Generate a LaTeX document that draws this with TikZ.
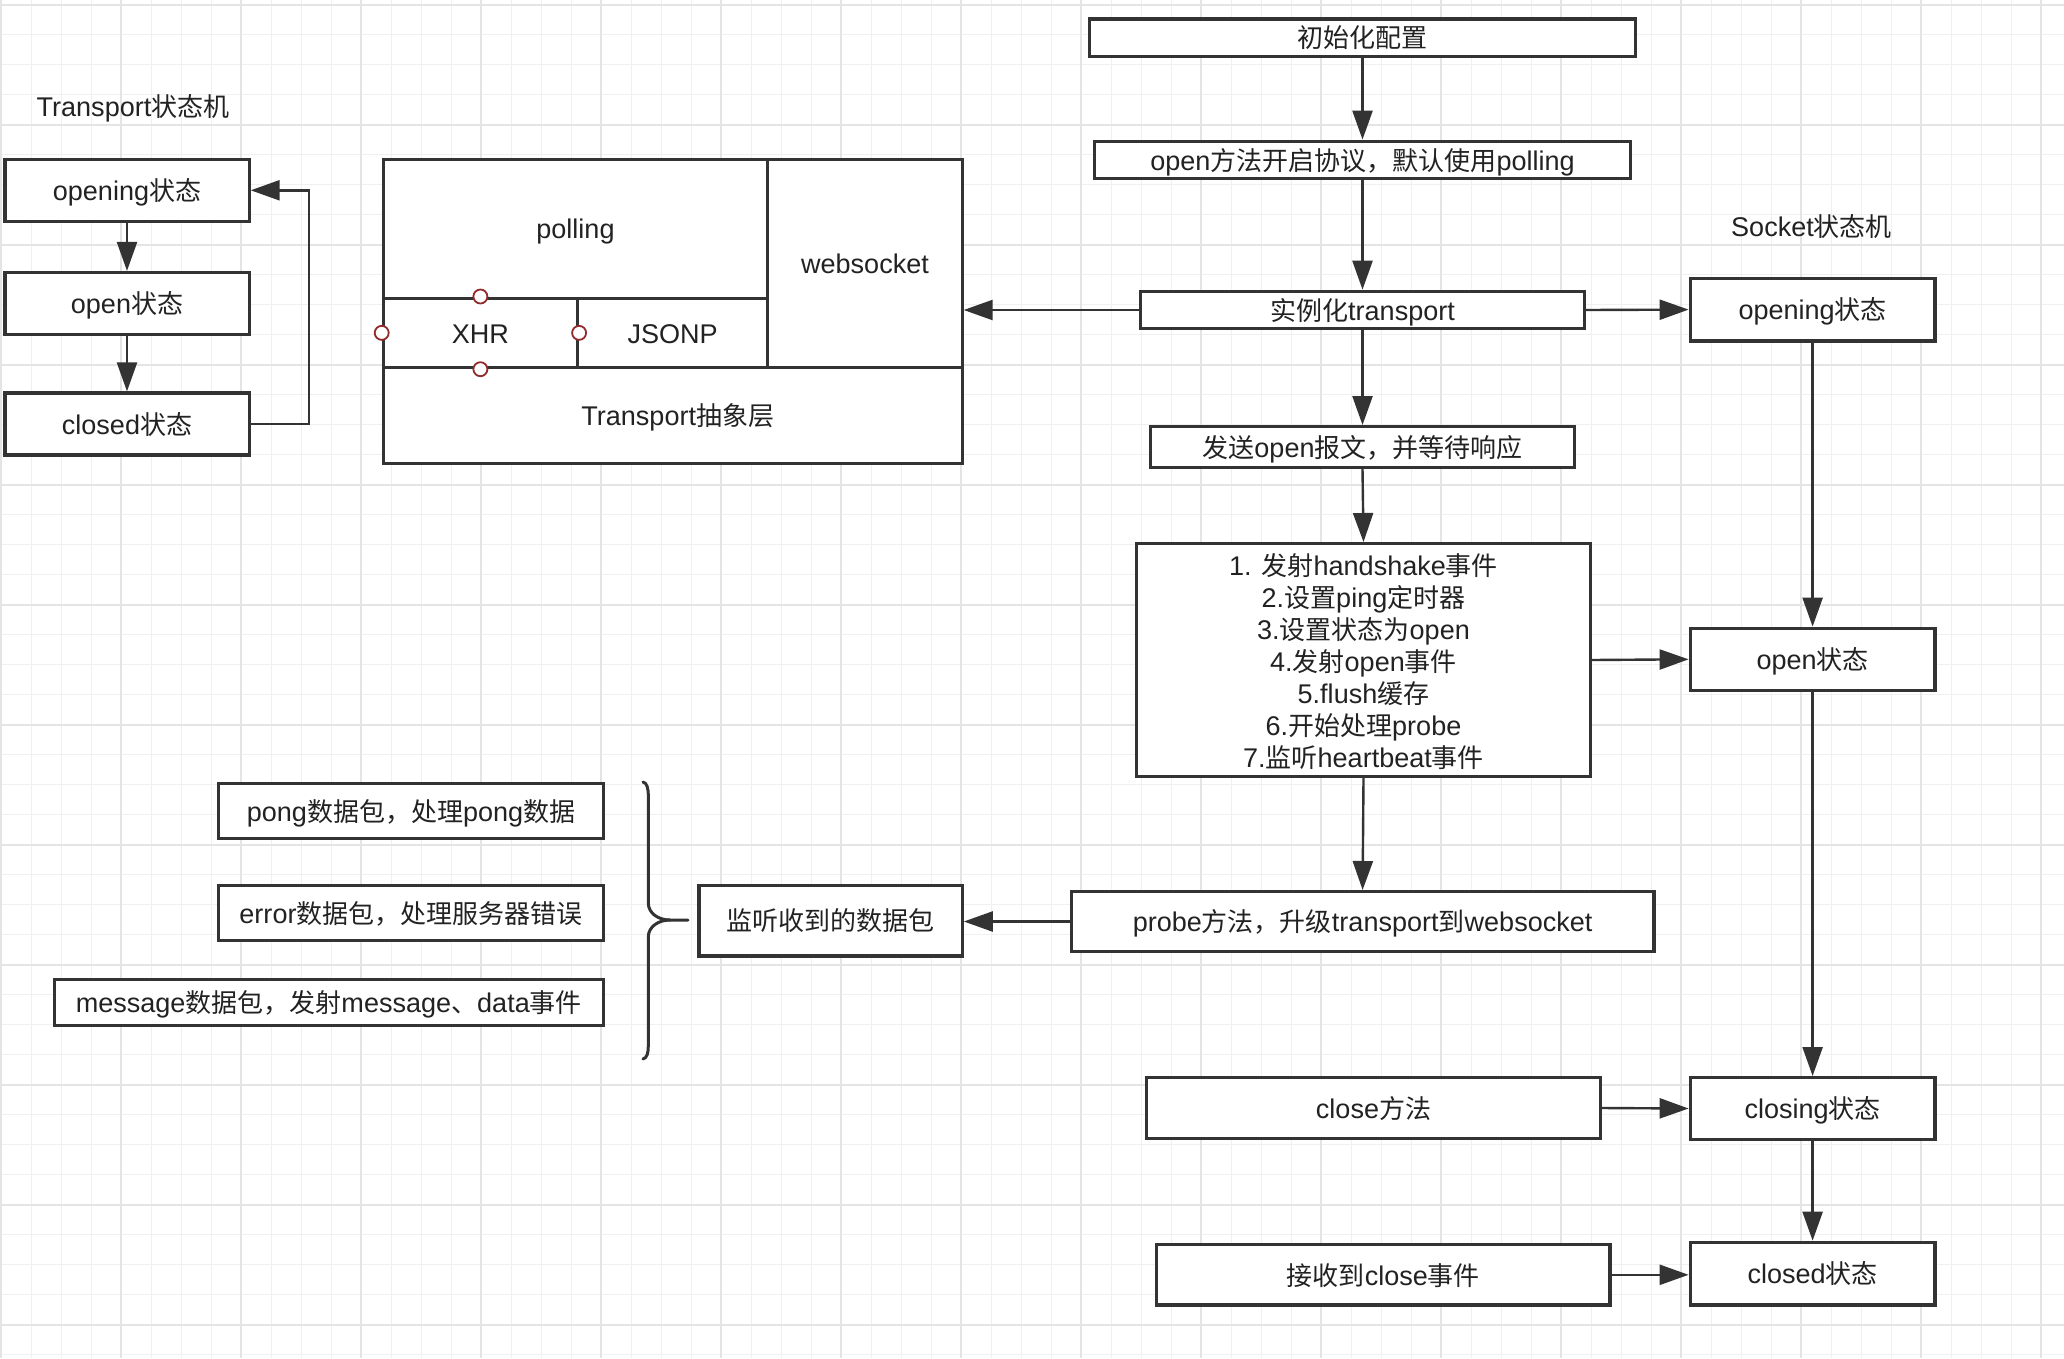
\documentclass[tikz,border=0pt]{standalone}
\usepackage{fontspec}
\setmainfont[Scale=1.04]{Liberation Sans}
\newfontfamily\cjkf{Noto Sans CJK SC}
\newfontfamily\latf[Scale=1.04]{Liberation Sans}
\usetikzlibrary{arrows.meta}
\XeTeXinterchartokenstate=1
\newXeTeXintercharclass\cjkcls
\newcount\cjkcc
\def\setcjkrange#1#2{\cjkcc=#1 \loop \XeTeXcharclass\cjkcc=\cjkcls \advance\cjkcc by 1 \ifnum\cjkcc<#2 \repeat}
\setcjkrange{"3000}{"3040}
\setcjkrange{"4E00}{"A000}
\setcjkrange{"FF00}{"FFF0}
\XeTeXinterchartoks 0 \cjkcls = {\cjkf}
\XeTeXinterchartoks 4095 \cjkcls = {\cjkf}
\XeTeXinterchartoks \cjkcls 0 = {\latf}
\definecolor{ln}{HTML}{333333}
\definecolor{tx}{HTML}{222222}
\definecolor{gmin}{HTML}{F0F0F0}
\definecolor{gmaj}{HTML}{E4E4E4}
\definecolor{cred}{HTML}{922B2B}
\newcommand\fs{\fontsize{26}{31.9}\selectfont}
\tikzset{
  bx/.style={draw=ln, line width=3.2pt, fill=white, inner sep=0pt, text=tx, font=\fs, text height=23.5pt, text depth=3pt},
  bigbx/.style={draw=ln, line width=3.2pt, fill=white, inner sep=0pt},
  cell/.style={draw=ln, line width=3pt, fill=white, inner sep=0pt, text=tx, font=\fs, text height=23.5pt, text depth=3pt},
  wh/.style 2 args={minimum width=#1pt, minimum height=#2pt},
  lbl/.style={inner sep=0pt, text=tx, font=\fs, text height=23.5pt, text depth=3pt},
  mlbl/.style={inner sep=0pt, text=tx, font=\fs, align=center},
  arr/.style={draw=ln, line width=2.4pt, -{Triangle[length=29pt,width=20pt]}},
  port/.style={circle, draw=cred, fill=white, line width=1.8pt, minimum size=14pt, inner sep=0pt},
  gminor/.style={draw=gmin, line width=1.4pt},
  gmajor/.style={draw=gmaj, line width=1.8pt},
  bracestyle/.style={draw=ln, line width=3pt, line cap=round}
}
\begin{document}
\begin{tikzpicture}[x=1pt, y=-1pt]
\useasboundingbox (0,0) rectangle (2064,1358);
\fill[white] (0,0) rectangle (2064,1358);
% grid
\foreach \k in {0,...,68} {\draw[gminor] ({1.3+30*\k},0) -- ({1.3+30*\k},1358);}
\foreach \k in {0,...,45} {\draw[gminor] (0,{4.7+30*\k}) -- (2064,{4.7+30*\k});}
\foreach \k in {0,4,...,68} {\draw[gmajor] ({1.3+30*\k},0) -- ({1.3+30*\k},1358);}
\foreach \k in {0,4,...,44} {\draw[gmajor] (0,{4.7+30*\k}) -- (2064,{4.7+30*\k});}

% Transport state machine
\node[lbl] (tsm) at (133,106) {Transport状态机};
\node[bx, wh={244.2}{62}] (topening) at (127,190.3) {opening状态};
\node[bx, wh={244.2}{62}] (topen) at (127,303.5) {open状态};
\node[bx, wh={244.2}{62}] (tclosed) at (127,424) {closed状态};
\coordinate (loopx) at (309,0);
\draw[arr] (topening.south) -- (topen.north);
\draw[arr] (topen.south) -- (tclosed.north);
\draw[arr] (tclosed.east) -- (loopx |- tclosed.east) -- (loopx |- topening.east) -- (topening.east);

% Transport block
\node[cell, wh={384.6}{139}] (polling) at (575.5,228.5) {polling};
\node[cell, wh={194.4}{208.7}] (ws) at (865,263.35) {websocket};
\node[cell, wh={194.4}{69.7}] (xhr) at (480.4,332.85) {XHR};
\node[cell, wh={190.2}{69.7}] (jsonp) at (672.7,332.85) {JSONP};
\node[cell, wh={579}{95.6}] (abst) at (672.7,415.5) {\hspace*{10pt}Transport抽象层};
\node[port] (p1) at (xhr.north) {};
\node[port] (p2) at (xhr.west) {};
\node[port] (p3) at (xhr.east) {};
\node[port] (p4) at (xhr.south) {};

% main column
\node[bx, wh={545.8}{37.2}] (init) at (1362.5,37.5) {初始化配置};
\node[bx, wh={535.8}{37.2}] (openm) at (1362.5,159.8) {open方法开启协议，默认使用polling};
\node[bx, wh={443.8}{37.5}] (inst) at (1362.5,310) {实例化transport};
\node[bx, wh={423.8}{40.8}] (send) at (1362.5,447) {发送open报文，并等待响应};
\node[bigbx, wh={453.8}{232.8}] (big) at (1363.5,660) {};
\node[mlbl] (bigtxt) at ([yshift=-1.5pt]big.center) {1. 发射handshake事件\\2.设置ping定时器\\3.设置状态为open\\4.发射open事件\\5.flush缓存\\6.开始处理probe\\7.监听heartbeat事件};
\node[bx, wh={582.8}{59.8}] (probe) at (1362.6,921.5) {probe方法，升级transport到websocket};
\node[bx, wh={453.8}{60.8}] (closem) at (1373.5,1108) {close方法};
\node[bx, wh={453.4}{60.4}] (recv) at (1383.3,1274.8) {接收到close事件};

% socket state machine
\node[lbl] (ssm) at (1811.5,226) {Socket状态机};
\node[bx, wh={244.8}{62.8}] (sopening) at (1812.6,309.6) {opening状态};
\node[bx, wh={244.8}{62.2}] (sopen) at (1812.6,659.3) {open状态};
\node[bx, wh={244.8}{61.8}] (sclosing) at (1812.6,1108.5) {closing状态};
\node[bx, wh={244.8}{62.7}] (sclosed) at (1812.6,1273.6) {closed状态};

% packets
\node[bx, wh={384.8}{55.2}] (pong) at (411,811.2) {pong数据包，处理pong数据};
\node[bx, wh={384.8}{55.4}] (err) at (411,913.1) {error数据包，处理服务器错误};
\node[bx, wh={549.2}{45.8}] (msg) at (328.8,1002.5) {message数据包，发射message、data事件};
\node[bx, wh={263.2}{70.5}] (listen) at (830.6,920.65) {监听收到的数据包};
\draw[bracestyle] (643,782) .. controls (647,783) and (648.3,788) .. (648.3,796) -- (648.3,903) .. controls (648.3,913) and (658,920) .. (670,920) -- (688,920);
\draw[bracestyle] (670,920) .. controls (658,920) and (648.3,927) .. (648.3,937) -- (648.3,1046) .. controls (648.3,1053) and (647,1058) .. (643,1059);

% arrows
\draw[arr] (init.south) -- (openm.north);
\draw[arr] (openm.south) -- (inst.north);
\draw[arr] (inst.south) -- (send.north);
\draw[arr] (send.south) -- (big.north);
\draw[arr] (big.south) -- (probe.north);
\draw[arr] (inst.west) -- (inst.west -| ws.east);
\draw[arr] (inst.east) -- (sopening.west);
\draw[arr] (sopening.south) -- (sopen.north);
\draw[arr] (big.east) -- (sopen.west);
\draw[arr] (sopen.south) -- (sclosing.north);
\draw[arr] (sclosing.south) -- (sclosed.north);
\draw[arr] (closem.east) -- (sclosing.west);
\draw[arr] (recv.east) -- (sclosed.west |- recv.east);
\draw[arr] (probe.west) -- (probe.west -| listen.east);
\end{tikzpicture}
\end{document}
